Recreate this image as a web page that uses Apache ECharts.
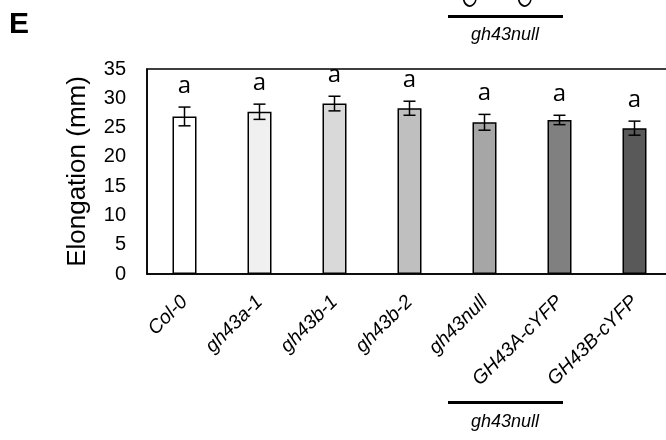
<!DOCTYPE html>
<html>
<head>
<meta charset="utf-8">
<script src="https://cdn.jsdelivr.net/npm/echarts@6/dist/echarts.min.js"></script>
<style>
  html, body { margin: 0; padding: 0; background: #fff; }
  #main { width: 666px; height: 440px; }
</style>
</head>
<body>
<div id="main"></div>
<script>
// genotypes on the x axis
var categories = ['Col-0', 'gh43a-1', 'gh43b-1', 'gh43b-2', 'gh43null', 'GH43A-cYFP', 'GH43B-cYFP'];
// mean elongation (mm) and error bar half-length
var means = [26.9, 27.7, 29.1, 28.3, 25.9, 26.3, 24.9];
var errors = [1.6, 1.3, 1.25, 1.2, 1.35, 0.8, 1.2];
// significance letters
var letters = ['a', 'a', 'a', 'a', 'a', 'a', 'a'];
// y axis ticks
var yMin = 0, yMax = 35, yStep = 5;

var fills = ['#ffffff', '#f0f0f0', '#d9d9d9', '#bfbfbf', '#a6a6a6', '#808080', '#595959'];
var font = 'Liberation Sans, Arial, sans-serif';
var labelSize = 19.5, labelMargin = 25;

var chart = echarts.init(document.getElementById('main'));

// rotated label stubs of the panel above, cut off by the top edge
function stub(text, x, y) {
    return {
        type: 'text', x: x, y: y, rotation: Math.PI / 4,
        style: { text: text, fill: '#000', font: 'italic ' + labelSize + 'px ' + font, align: 'left', verticalAlign: 'middle' }
    };
}

var option = {
    animation: false,
    backgroundColor: '#fff',
    grid: {
        left: 147, top: 69, right: -6, bottom: 166,
        show: true, borderColor: '#000', borderWidth: 1.5,
        containLabel: false, outerBoundsMode: 'none'
    },
    xAxis: {
        type: 'category',
        data: categories,
        axisTick: { show: false },
        axisLine: { lineStyle: { color: '#000', width: 1.5 } },
        axisLabel: {
            rotate: 45, margin: labelMargin, interval: 0,
            color: '#000', fontSize: labelSize, fontStyle: 'italic', fontFamily: font
        }
    },
    yAxis: {
        type: 'value',
        min: yMin, max: yMax, interval: yStep,
        name: 'Elongation (mm)',
        nameLocation: 'middle',
        nameGap: 56,
        nameTextStyle: { color: '#000', fontSize: 26, fontFamily: font },
        axisLine: { show: true, lineStyle: { color: '#000', width: 1.5 } },
        axisTick: { show: false },
        splitLine: { show: false },
        axisLabel: { color: '#000', fontSize: 20, margin: 21, fontFamily: font }
    },
    series: [
        {
            type: 'bar',
            barWidth: 24,
            data: means.map(function (v, i) {
                return { value: v, itemStyle: { color: fills[i] } };
            }),
            itemStyle: { borderColor: '#000', borderWidth: 1.5 },
            z: 2
        },
        {
            type: 'custom',
            data: means.map(function (v, i) { return [i, v, errors[i]]; }),
            renderItem: function (params, api) {
                var idx = api.value(0);
                var hi = api.coord([idx, api.value(1) + api.value(2)]);
                var lo = api.coord([idx, api.value(1) - api.value(2)]);
                var x = hi[0], cap = 6;
                var st = { stroke: '#000', lineWidth: 1.5 };
                return {
                    type: 'group',
                    children: [
                        { type: 'line', shape: { x1: x, y1: hi[1], x2: x, y2: lo[1] }, style: st },
                        { type: 'line', shape: { x1: x - cap, y1: hi[1], x2: x + cap, y2: hi[1] }, style: st },
                        { type: 'line', shape: { x1: x - cap, y1: lo[1], x2: x + cap, y2: lo[1] }, style: st },
                        {
                            type: 'text', x: x, y: hi[1] - 21,
                            style: {
                                text: letters[params.dataIndex], fill: '#000',
                                font: '24px "Open Sans", sans-serif',
                                align: 'center', verticalAlign: 'middle'
                            }
                        }
                    ]
                };
            },
            z: 3
        }
    ],
    graphic: [
        { type: 'text', left: 9, top: 10, style: { text: 'E', fill: '#000', font: 'bold 30px ' + font } },
        stub('GH43A-cYFP', 465, 6),
        stub('GH43B-cYFP', 520, 6),
        { type: 'rect', shape: { x: 448, y: 15, width: 115, height: 3 }, style: { fill: '#000' } },
        { type: 'text', x: 505, y: 35, style: { text: 'gh43null', fill: '#000', font: 'italic 18px ' + font, align: 'center', verticalAlign: 'middle' } },
        { type: 'rect', shape: { x: 448, y: 401, width: 115, height: 3 }, style: { fill: '#000' } },
        { type: 'text', x: 505, y: 422, style: { text: 'gh43null', fill: '#000', font: 'italic 18px ' + font, align: 'center', verticalAlign: 'middle' } }
    ]
};

chart.setOption(option);
</script>
</body>
</html>
